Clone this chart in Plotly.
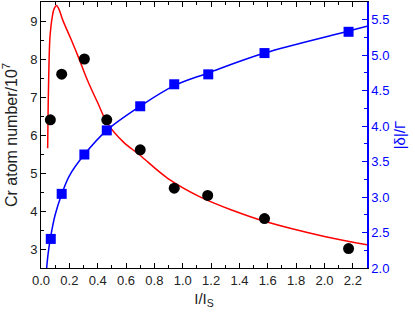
import plotly.graph_objects as go

# Measured data (black circles, left axis)
atom_x = [0.066, 0.146, 0.306, 0.464, 0.70, 0.94, 1.176, 1.577, 2.17]
atom_y = [6.40, 7.60, 8.00, 6.40, 5.61, 4.60, 4.41, 3.80, 3.01]

# Measured detuning (blue squares, right axis)
det_x = [0.069, 0.146, 0.306, 0.464, 0.70, 0.94, 1.18, 1.577, 2.17]
det_y = [2.41, 3.045, 3.60, 3.94, 4.28, 4.59, 4.73, 5.03, 5.33]

# Fit curves
red_x = [0.047, 0.050, 0.054, 0.062, 0.070, 0.080, 0.092, 0.11, 0.128, 0.153,
         0.212, 0.266, 0.33, 0.40, 0.47, 0.58, 0.694, 0.894, 1.118, 1.35,
         1.577, 2.0, 2.30]
red_y = [5.65, 6.60, 7.45, 8.50, 8.85, 9.12, 9.32, 9.41, 9.30, 9.03,
         8.52, 8.03, 7.42, 6.85, 6.30, 5.82, 5.48, 4.86, 4.38, 4.02,
         3.73, 3.33, 3.11]

blue_x = [0.040, 0.05, 0.069, 0.10, 0.146, 0.20, 0.306, 0.464, 0.70, 0.94, 1.18, 1.577, 2.17, 2.30]
blue_y = [2.00, 2.20, 2.45, 2.75, 3.04, 3.30, 3.60, 3.94, 4.28, 4.57, 4.75, 5.03, 5.34, 5.41]

BLUE = "#0000ff"
FONT = "Liberation Sans, Arial, sans-serif"

fig = go.Figure()
fig.add_trace(go.Scatter(x=red_x, y=red_y, mode="lines", line=dict(color="#ff0000", width=1.5, shape="spline", smoothing=1),
                         yaxis="y", showlegend=False))
fig.add_trace(go.Scatter(x=blue_x, y=blue_y, mode="lines", line=dict(color=BLUE, width=1.5, shape="spline"),
                         yaxis="y2", showlegend=False))
fig.add_trace(go.Scatter(x=atom_x, y=atom_y, mode="markers",
                         marker=dict(symbol="circle", size=11, color="black"),
                         yaxis="y", showlegend=False))
fig.add_trace(go.Scatter(x=det_x, y=det_y, mode="markers",
                         marker=dict(symbol="square", size=10, color=BLUE),
                         yaxis="y2", showlegend=False))

fig.update_layout(
    width=415, height=314,
    margin=dict(l=41, r=48, t=2, b=46),
    paper_bgcolor="white", plot_bgcolor="white",
    font=dict(family=FONT, size=13, color="#222"),
    xaxis=dict(range=[0, 2.3], dtick=0.2, tick0=0, tickformat=".1f",
               ticks="inside", ticklen=5, tickcolor="black",
               showline=True, linecolor="black", linewidth=1, mirror="ticks",
               showgrid=False, zeroline=False,
               minor=dict(dtick=0.1, ticks="inside", ticklen=3, tickcolor="black"),
               title=dict(text="I/I<sub>S</sub>", font=dict(size=15), standoff=6)),
    yaxis=dict(range=[2.5, 9.5], dtick=1, tick0=3,
               ticks="inside", ticklen=5, tickcolor="black",
               showline=True, linecolor="black", linewidth=1,
               showgrid=False, zeroline=False,
               minor=dict(dtick=0.5, ticks="inside", ticklen=3, tickcolor="black"),
               title=dict(text="Cr atom number/10<sup>7</sup>", font=dict(size=16), standoff=8)),
    yaxis2=dict(range=[2.0, 5.75], dtick=0.5, tick0=2, tickformat=".1f",
                overlaying="y", side="right",
                ticks="inside", ticklen=5, tickcolor=BLUE,
                showline=True, linecolor=BLUE, linewidth=1.5,
                showgrid=False, zeroline=False,
                tickfont=dict(color=BLUE, size=13),
                minor=dict(dtick=0.25, ticks="inside", ticklen=3, tickcolor=BLUE),
                title=dict(text="|δ|/Γ", font=dict(color=BLUE, size=15), standoff=6)),
)

fig.write_html("out.html", config={"displayModeBar": False},
               post_script="document.body.style.margin='0';")
